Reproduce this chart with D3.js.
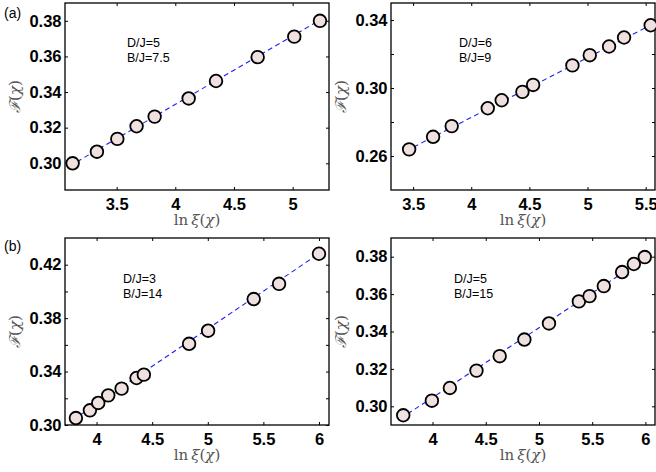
<!DOCTYPE html>
<html>
<head>
<meta charset="utf-8">
<script src="https://d3js.org/d3.v7.min.js"></script>
<style>
  body { margin: 0; background: #fff; }
  .tick text { font-family: "Liberation Sans", Arial, sans-serif; font-weight: bold; font-size: 16.5px; fill: #000; }
  .tick line { stroke: #000; stroke-width: 1; }
</style>
</head>
<body>
<script>
// data
var xA = [3.125, 3.332, 3.506, 3.670, 3.824, 4.114, 4.347, 4.702, 5.014, 5.233];
var yA = [0.3000, 0.3065, 0.3137, 0.3208, 0.3262, 0.3364, 0.3462, 0.3596, 0.3711, 0.3800];
var fitA = [[3.10, 0.2985], [5.26, 0.3815]];

var xB = [3.466, 3.672, 3.832, 4.142, 4.262, 4.440, 4.532, 4.870, 5.019, 5.185, 5.314, 5.543];
var yB = [0.2639, 0.2713, 0.2776, 0.2881, 0.2928, 0.2977, 0.3018, 0.3133, 0.3193, 0.3244, 0.3297, 0.3369];
var fitB = [[3.44, 0.2630], [5.58, 0.3383]];

var xC = [3.814, 3.940, 4.015, 4.105, 4.225, 4.359, 4.425, 4.832, 5.003, 5.413, 5.641, 6.000];
var yC = [0.3052, 0.3110, 0.3165, 0.3222, 0.3272, 0.3352, 0.3377, 0.3608, 0.3706, 0.3943, 0.4057, 0.4282];
var fitC = [[3.79, 0.3040], [6.03, 0.4300]];

var xD = [3.725, 3.994, 4.163, 4.413, 4.631, 4.863, 5.094, 5.375, 5.475, 5.609, 5.781, 5.891, 5.994];
var yD = [0.2952, 0.3030, 0.3098, 0.3191, 0.3268, 0.3357, 0.3443, 0.3561, 0.3589, 0.3643, 0.3718, 0.3761, 0.3798];
var fitD = [[3.70, 0.2935], [6.00, 0.3793]];

// axis ticks
var xTicksA = [3.5, 4, 4.5, 5];
var xTicksB = [3.5, 4, 4.5, 5, 5.5];
var xTicksC = [4, 4.5, 5, 5.5, 6];
var xTicksD = [4, 4.5, 5, 5.5, 6];
var yTicksA = [0.30, 0.32, 0.34, 0.36, 0.38];
var yTicksB = [0.26, 0.28, 0.30, 0.32, 0.34];
var yTicksC = [0.30, 0.32, 0.34, 0.36, 0.38, 0.40, 0.42];
var yTicksD = [0.30, 0.32, 0.34, 0.36, 0.38];
var yLabelsA = [0.30, 0.32, 0.34, 0.36, 0.38];
var yLabelsB = [0.26, 0.30, 0.34];
var yLabelsC = [0.30, 0.34, 0.38, 0.42];
var yLabelsD = [0.30, 0.32, 0.34, 0.36, 0.38];

var notesA = ["D/J=5", "B/J=7.5"];
var notesB = ["D/J=6", "B/J=9"];
var notesC = ["D/J=3", "B/J=14"];
var notesD = ["D/J=5", "B/J=15"];

var W = 656, H = 472;
var pw = 264, ph = 187;

var svg = d3.select("body").append("svg")
    .attr("width", W)
    .attr("height", H);

svg.append("rect").attr("width", W).attr("height", H).attr("fill", "#fff");

function drawPanel(p) {
  var g = svg.append("g").attr("transform", "translate(" + p.left + "," + p.top + ")");

  var x = d3.scaleLinear().domain(p.xDomain).range([0, pw]);
  var y = d3.scaleLinear().domain(p.yDomain).range([ph, 0]);

  var fmtY = function(d) {
    return p.yLabels.some(function(v) { return Math.abs(v - d) < 1e-9; }) ? d3.format(".2f")(d) : "";
  };

  // axes, ticks pointing inward
  g.append("g").attr("transform", "translate(0," + ph + ")")
    .call(d3.axisBottom(x).tickValues(p.xTicks).tickSize(-3).tickPadding(8).tickFormat(d3.format("")));
  g.append("g")
    .call(d3.axisTop(x).tickValues(p.xTicks).tickSize(-3).tickFormat(""));
  g.append("g")
    .call(d3.axisLeft(y).tickValues(p.yTicks).tickSize(-3).tickPadding(3.5).tickFormat(fmtY));
  g.append("g").attr("transform", "translate(" + pw + ",0)")
    .call(d3.axisRight(y).tickValues(p.yTicks).tickSize(-3).tickFormat(""));
  g.selectAll(".domain").remove();

  g.append("rect")
    .attr("width", pw).attr("height", ph)
    .attr("fill", "none").attr("stroke", "#000").attr("stroke-width", 1.3);

  // fit line
  var line = d3.line()
    .x(function(d) { return x(d[0]); })
    .y(function(d) { return y(d[1]); });
  g.append("path")
    .datum(p.fit)
    .attr("d", line)
    .attr("fill", "none")
    .attr("stroke", "#1f1ff0")
    .attr("stroke-width", 1.1)
    .attr("stroke-dasharray", "5,3.5");

  // markers
  g.selectAll("circle.pt")
    .data(p.xs)
    .enter().append("circle")
      .attr("class", "pt")
      .attr("cx", function(d) { return x(d); })
      .attr("cy", function(d, i) { return y(p.ys[i]); })
      .attr("r", 6.3)
      .attr("fill", "#f0e1e1")
      .attr("stroke", "#000")
      .attr("stroke-width", 1.8);

  // annotation
  g.selectAll("text.note")
    .data(p.notes)
    .enter().append("text")
      .attr("class", "note")
      .attr("x", p.noteX)
      .attr("y", function(d, i) { return p.noteY + i * 15; })
      .style("font-family", "Liberation Sans, Arial, sans-serif")
      .style("font-size", "12.5px")
      .text(function(d) { return d; });

  // axis labels
  var xl = g.append("text")
    .attr("x", pw / 2)
    .attr("y", ph + 35)
    .attr("text-anchor", "middle")
    .style("font-family", "DejaVu Serif, Liberation Serif, serif")
    .style("font-size", "15px")
    .style("fill", "#555");
  xl.append("tspan").text("ln\u2009");
  xl.append("tspan").style("font-style", "italic").text("\u03be");
  xl.append("tspan").text("(");
  xl.append("tspan").style("font-style", "italic").text("\u03c7");
  xl.append("tspan").text(")");

  var yl = g.append("text")
    .attr("transform", "translate(-50," + (ph / 2) + ") rotate(-90)")
    .attr("dy", "0.35em")
    .attr("text-anchor", "middle")
    .style("font-family", "DejaVu Serif, Liberation Serif, serif")
    .style("font-size", "15px")
    .style("fill", "#555");
  yl.append("tspan").style("font-style", "italic").text("\u2131");
  yl.append("tspan").text("(");
  yl.append("tspan").style("font-style", "italic").text("\u03c7");
  yl.append("tspan").text(")");
}

drawPanel({left: 65, top: 3, xDomain: [3.06, 5.31], yDomain: [0.285, 0.39],
  xTicks: xTicksA, yTicks: yTicksA, yLabels: yLabelsA, xs: xA, ys: yA, fit: fitA,
  notes: notesA, noteX: 62, noteY: 44});
drawPanel({left: 391, top: 3, xDomain: [3.31, 5.58], yDomain: [0.24, 0.35],
  xTicks: xTicksB, yTicks: yTicksB, yLabels: yLabelsB, xs: xB, ys: yB, fit: fitB,
  notes: notesB, noteX: 68, noteY: 44});
drawPanel({left: 65, top: 238, xDomain: [3.716, 6.09], yDomain: [0.30, 0.44],
  xTicks: xTicksC, yTicks: yTicksC, yLabels: yLabelsC, xs: xC, ys: yC, fit: fitC,
  notes: notesC, noteX: 58, noteY: 45});
drawPanel({left: 391, top: 238, xDomain: [3.61, 6.09], yDomain: [0.29, 0.39],
  xTicks: xTicksD, yTicks: yTicksD, yLabels: yLabelsD, xs: xD, ys: yD, fit: fitD,
  notes: notesD, noteX: 63, noteY: 45});

// panel letters
svg.append("text").attr("x", 4).attr("y", 18)
  .style("font-family", "Liberation Sans, Arial, sans-serif").style("font-size", "14px")
  .text("(a)");
svg.append("text").attr("x", 4).attr("y", 251)
  .style("font-family", "Liberation Sans, Arial, sans-serif").style("font-size", "14px")
  .text("(b)");
</script>
</body>
</html>
